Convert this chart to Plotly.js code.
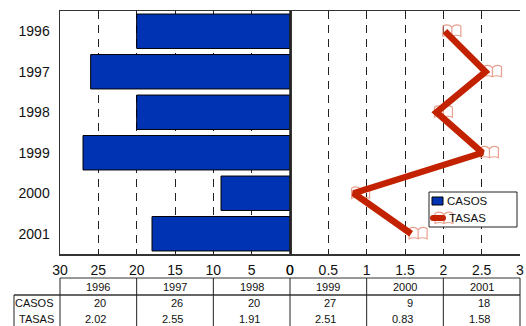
<!DOCTYPE html>
<html>
<head>
<meta charset="utf-8">
<script src="https://cdn.plot.ly/plotly-3.0.1.min.js"></script>
<style>html,body{margin:0;padding:0;background:#fff}</style>
</head>
<body>
<div id="chart" style="width:526px;height:326px"></div>
<script>
const years = ['1996','1997','1998','1999','2000','2001'];
const casos = [20,26,20,27,9,18];
const tasas = [2.02,2.55,1.91,2.51,0.83,1.58];
const tasasLabels = ['2.02','2.55','1.91','2.51','0.83','1.58'];
const seriesNames = ['CASOS','TASAS'];
const leftTicks = [30,25,20,15,10,5,0];
const rightTicks = [0,0.5,1,1.5,2,2.5,3];

const W = 526, H = 326, L = 60, R = 520, T = 11, B = 254;
const FONT = '"Liberation Sans", Arial, sans-serif';
const BLUE = '#0033b3', RED = '#c32200', PALE = '#e8a090';
const BOOK_PATH = 'M-2,5 Q3,8 7,4 Q11,8 16,5 L16,-5 Q11,-3 7,-5 Q3,-3 -2,-5 Z M7,4 L7,-5';
const py = y => 1 - (y - T) / (B - T);
const xP = x => (x - L) / (R - L);

const bars = {
  type: 'bar', orientation: 'h', name: seriesNames[0], showlegend: false,
  x: casos, y: years, xaxis: 'x', yaxis: 'y', width: 0.85,
  marker: {color: BLUE, line: {color: '#000', width: 1}},
  hoverinfo: 'x+y'
};
const line = {
  type: 'scatter', mode: 'lines', name: seriesNames[1], showlegend: false,
  x: tasas, y: years, xaxis: 'x2', yaxis: 'y',
  line: {color: RED, width: 6.5}, hoverinfo: 'x+y'
};

const axisBase = {
  showline: true, linecolor: '#333', linewidth: 1.5, mirror: true,
  showgrid: true, griddash: '8px,6px', gridcolor: '#222', gridwidth: 1,
  zeroline: false, ticks: '', tickfont: {family: FONT, size: 14, color: '#111'},
  tickmode: 'array', ticklabelstandoff: 3, fixedrange: true
};

const shapes = [];
const annotations = [];
const edges = [];
for (let i = 0; i <= years.length; i++) edges.push(L + i * (R - L) / years.length);
const hline = (x0, x1, y, w) => shapes.push({type:'line', xref:'paper', yref:'paper', layer:'above',
  x0:xP(x0), x1:xP(x1), y0:py(y), y1:py(y), line:{color:'#333', width:w}});
const vline = (x, y0, y1, w) => shapes.push({type:'line', xref:'paper', yref:'paper', layer:'above',
  x0:xP(x), x1:xP(x), y0:py(y0), y1:py(y1), line:{color:'#222', width:w}});
const box = (x0, x1, y0, y1, fill, col, w) => shapes.push({type:'rect', xref:'paper', yref:'paper', layer:'above',
  x0:xP(x0), x1:xP(x1), y0:py(y0), y1:py(y1), fillcolor:fill, line:{color:col, width:w}});
hline(L, R, 278, 1);
hline(14, R, 295, 1.5);
edges.forEach(e => vline(e, 278, 326, 1));
vline(14, 295, 326, 1);
vline(290, T, B, 1.5);

// book markers under the line, anchored to each data point
tasas.forEach((v, i) => shapes.push({type:'path', layer:'between', xref:'x2', yref:'y',
  xsizemode:'pixel', ysizemode:'pixel', xanchor:v, yanchor:i, path:BOOK_PATH,
  line:{color:PALE, width:1.2}}));

const cell = (txt, x, y, anchor, size) => annotations.push({text: txt, xref:'paper', yref:'paper',
  x: xP(x), y: py(y), xanchor: anchor, yanchor:'middle', showarrow:false,
  font:{family: FONT, size: size || 11, color:'#111'}});
years.forEach((yr, i) => {
  const c = (edges[i] + edges[i+1]) / 2;
  cell(yr, c, 286.5, 'center');
  cell(String(casos[i]), c + 10, 303, 'right');
  cell(tasasLabels[i], c + 10, 319, 'right');
});
cell(seriesNames[0], 56, 303, 'right');
cell(seriesNames[1], 56, 319, 'right');

// legend
box(429, 517, 192, 227, '#fff', '#222', 1);
box(432, 443, 197, 205, BLUE, '#000', 1);
shapes.push({type:'path', layer:'above', xref:'paper', yref:'paper',
  xsizemode:'pixel', ysizemode:'pixel', xanchor:xP(437), yanchor:py(218.5), path:BOOK_PATH,
  line:{color:PALE, width:1.2}});
shapes.push({type:'line', xref:'paper', yref:'paper', layer:'above',
  x0:xP(433), x1:xP(443), y0:py(218), y1:py(218), line:{color:RED, width:6}});
shapes.push({type:'circle', xref:'paper', yref:'paper', layer:'above',
  x0:xP(430), x1:xP(436), y0:py(215), y1:py(221), fillcolor:RED, line:{width:0}});
shapes.push({type:'circle', xref:'paper', yref:'paper', layer:'above',
  x0:xP(440), x1:xP(446), y0:py(215), y1:py(221), fillcolor:RED, line:{width:0}});
cell(seriesNames[0], 445, 201, 'left', 11.5);
cell(seriesNames[1], 447, 218, 'left', 11.5);

const layout = {
  width: W, height: H, autosize: false,
  margin: {l: L, r: W - R, t: T, b: H - B, pad: 0},
  paper_bgcolor: '#fff', plot_bgcolor: '#fff',
  showlegend: false, bargap: 0.15,
  xaxis: Object.assign({}, axisBase, {domain: [0, 0.5], range: [30, 0], tickvals: leftTicks, anchor: 'y'}),
  xaxis2: Object.assign({}, axisBase, {domain: [0.5, 1], range: [0, 3], tickvals: rightTicks, anchor: 'y'}),
  yaxis: {type: 'category', categoryorder: 'array', categoryarray: years, autorange: false, range: [5.5, -0.5],
    showline: true, linecolor: '#333', linewidth: 1.5, mirror: true, showgrid: false, zeroline: false, ticks: '',
    tickfont: {family: FONT, size: 14, color: '#111'}, ticklabelstandoff: 6, fixedrange: true},
  shapes, annotations
};
Plotly.newPlot('chart', [bars, line], layout, {displayModeBar: false, staticPlot: true});
</script>
</body>
</html>
